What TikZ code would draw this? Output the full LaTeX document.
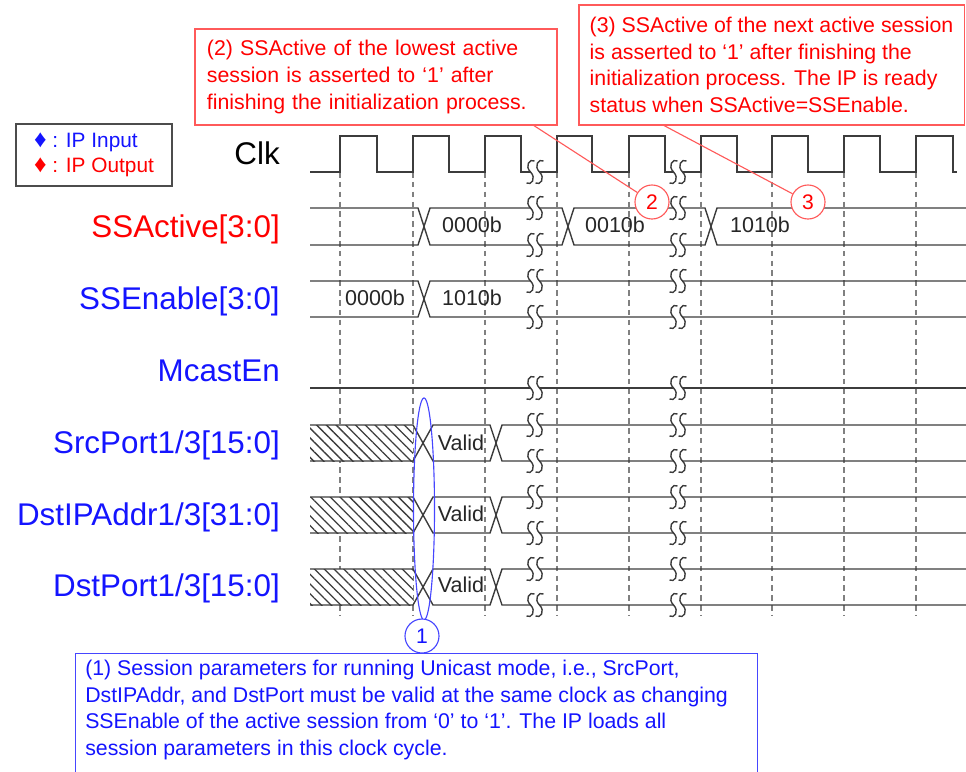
\documentclass[tikz,border=0pt]{standalone}
\usepackage{fontspec}
\setmainfont{Liberation Sans}
\usetikzlibrary{shapes.geometric,patterns.meta}
\definecolor{sigline}{RGB}{60,60,60}
\definecolor{tickgray}{RGB}{128,128,128}
\definecolor{ipred}{RGB}{255,0,0}
\definecolor{ipblue}{RGB}{20,20,255}
\definecolor{notered}{RGB}{255,90,90}
\definecolor{noteblue}{RGB}{70,70,255}

\begin{document}
\begin{tikzpicture}[x=0.025cm,y=-0.025cm,
  sig/.style={sigline,line width=1pt},
  tick/.style={tickgray,line width=0.9pt,dash pattern=on 4pt off 3pt},
  sname/.style={anchor=base east,inner sep=0pt,font=\fontsize{22.3}{26}\selectfont},
  val/.style={inner sep=0pt,text=black!85,font=\fontsize{15.3}{18}\selectfont},
  notebox/.style={draw=notered,line width=0.8pt,align=left,text=ipred,font=\fontsize{15.15}{18.9}\selectfont},
  callnum/.style={circle,draw=notered,fill=white,line width=0.8pt,minimum size=0.85cm,inner sep=0pt,text=ipred,font=\fontsize{15}{18}\selectfont},
  calline/.style={notered,line width=0.8pt}]
\useasboundingbox (0,0) rectangle (966,771);

% clock edges
\foreach \x in {340,413,485,557,629,701,772,844,916}
  \draw[tick] (\x,172) -- (\x,615);

% clock
\draw[sig] (310,172) \foreach \r/\f in {340/377,413/449,485/521,557/592,629/665,701/737,772/808,844/880,916/953} { -- (\r,172) -- (\r,136) -- (\f,136) -- (\f,172) } -- (957,172);

% SSActive
\draw[sig] (310,208) -- (418,208) -- (430,245) -- (562,245) -- (574,208) -- (705,208) -- (717,245) -- (966,245);
\draw[sig] (310,245) -- (418,245) -- (430,208) -- (562,208) -- (574,245) -- (705,245) -- (717,208) -- (966,208);

% SSEnable
\draw[sig] (310,281) -- (418,281) -- (430,317) -- (966,317);
\draw[sig] (310,317) -- (418,317) -- (430,281) -- (966,281);

% McastEn
\draw[sig] (310,388) -- (966,388);

% session parameters
\foreach \t/\b in {425/461,497/533,569/605} {
  \fill[white] (310,\t) rectangle (413,\b);
  \fill[pattern={Lines[angle=-45,distance=4.9pt,line width=0.9pt]},pattern color=sigline] (310,\t) rectangle (413,\b);
  \draw[sig] (310,\t) -- (413,\t) -- (433,\b) -- (490,\b) -- (502,\t) -- (966,\t);
  \draw[sig] (310,\b) -- (413,\b) -- (433,\t) -- (490,\t) -- (502,\b) -- (966,\b);
}

% breaks
\foreach \y in {172,208,245,281,317,388,425,461,497,533,569,605}
  \foreach \x in {535,678} {
    \fill[white] ({\x-4.5},{\y-3}) rectangle ({\x+4.5},{\y+3});
    \foreach \c in {-4.5,4.5}
      \draw[sig] ({\x+\c+4},{\y-11}) .. controls ({\x+\c-1},{\y-14}) and ({\x+\c-6},{\y-6}) .. ({\x+\c},{\y})
        .. controls ({\x+\c+6},{\y+6}) and ({\x+\c+1},{\y+14}) .. ({\x+\c-4},{\y+11});
  }

% signal names
\node[sname] (lclk) at (280,164) {Clk};
\node[sname,text=ipred] (lact) at (280,237) {SSActive[3:0]};
\node[sname,text=ipblue] (lena) at (280,309) {SSEnable[3:0]};
\node[sname,text=ipblue] (lmc) at (280,381) {McastEn};
\node[sname,text=ipblue] (lsrc) at (280,453) {SrcPort1/3[15:0]};
\node[sname,text=ipblue] (ldip) at (280,525) {DstIPAddr1/3[31:0]};
\node[sname,text=ipblue] (ldp) at (280,596) {DstPort1/3[15:0]};

% values
\node[val] (a0) at (472,225) {0000b};
\node[val] (a1) at (615,225) {0010b};
\node[val] (a2) at (760,225) {1010b};
\node[val] (e0) at (375,298) {0000b};
\node[val] (e1) at (472,298) {1010b};
\node[val] (v1) at (461,443) {Valid};
\node[val] (v2) at (461,514) {Valid};
\node[val] (v3) at (461,585) {Valid};

% legend
\node[draw=black!70,line width=0.8pt,minimum width=3.9cm,minimum height=1.55cm,align=left,font=\fontsize{14.8}{17.8}\selectfont] (legend) at (94,155)
  {\textcolor{ipblue}{{\fontsize{17.5}{14}\selectfont ♦} : IP Input}\\\textcolor{ipred}{{\fontsize{17.5}{14}\selectfont ♦} : IP Output}};

% notes
\node[notebox,text width=8.45cm,inner xsep=0.3cm,minimum height=2.4cm] (note2) at (376,77)
  {(2) SSActive of the lowest active\\session is asserted to ‘1’ after\\finishing the initialization process.};
\node[notebox,minimum width=9.625cm,minimum height=3cm] (note3) at (771.5,65)
  {(3) SSActive of the next active session\\is asserted to ‘1’ after finishing the\\initialization process. The IP is ready\\status when SSActive=SSEnable.};
\node[draw=noteblue,line width=0.8pt,minimum width=17.05cm,minimum height=3.5cm,anchor=north west] (note1) at (75,653) {};
\node[align=left,inner sep=0pt,anchor=north west,text=ipblue,font=\fontsize{15.15}{18.9}\selectfont] (note1txt) at (85,660)
  {(1) Session parameters for running Unicast mode, i.e., SrcPort,\\DstIPAddr, and DstPort must be valid at the same clock as changing\\SSEnable of the active session from ‘0’ to ‘1’. The IP loads all\\session parameters in this clock cycle.};

% callouts
\coordinate (p2) at (533,125);
\coordinate (p3) at (663,125);
\node[callnum] (n2) at (652,202) {2};
\node[callnum] (n3) at (808,202) {3};
\draw[calline] (p2) -- (n2);
\draw[calline] (p3) -- (n3);

\node[draw=noteblue,ellipse,line width=0.8pt,minimum width=0.525cm,minimum height=5.55cm,inner sep=0pt] (ell) at (424,509) {};
\node[callnum,draw=noteblue,text=ipblue] (n1) at (422,636) {1};
\end{tikzpicture}
\end{document}
